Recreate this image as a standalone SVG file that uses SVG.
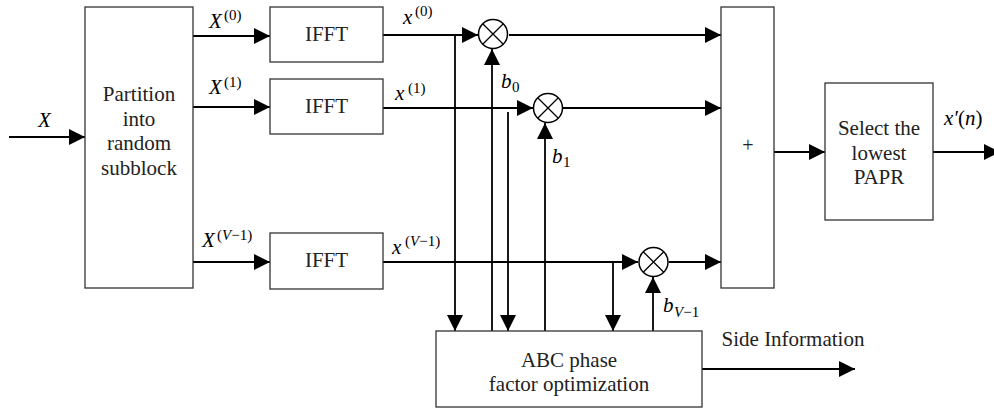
<svg xmlns="http://www.w3.org/2000/svg" width="994" height="410" viewBox="0 0 994 410" font-family="'Liberation Serif', serif">
<style>
.box{fill:#fff;stroke:#333;stroke-width:1.3}
.ln{fill:none;stroke:#000;stroke-width:1.8}
.arr{marker-end:url(#ah)}
.t{font-family:'Liberation Serif',serif;font-size:21px;fill:#222;text-anchor:middle}
.m{font-family:'Liberation Serif',serif;font-style:italic;font-size:21px;fill:#000}
.s{font-family:'Liberation Serif',serif;font-size:15px;fill:#000}
.si{font-style:italic}
.mul circle{fill:#fff;stroke:#000;stroke-width:1.5}
.mul path{stroke:#000;stroke-width:1.3;fill:none}
</style>
<defs>
<marker id="ah" markerUnits="userSpaceOnUse" markerWidth="16" markerHeight="16" viewBox="0 0 16 16" refX="16" refY="8" orient="auto">
<path d="M0,0 L16,8 L0,16 z" fill="#000"/>
</marker>
</defs>

<g id="connectors">
<line class="ln arr" x1="9" y1="137" x2="85" y2="137"/>
<line class="ln arr" x1="193" y1="36" x2="270" y2="36"/>
<line class="ln arr" x1="193" y1="107" x2="270" y2="107"/>
<line class="ln arr" x1="193" y1="262" x2="270" y2="262"/>
<line class="ln arr" x1="383" y1="35" x2="478" y2="35"/>
<line class="ln arr" x1="383" y1="108" x2="533" y2="108"/>
<line class="ln arr" x1="383" y1="262" x2="638" y2="262"/>
<line class="ln arr" x1="455" y1="35" x2="455" y2="331"/>
<line class="ln arr" x1="492" y1="331" x2="492" y2="49"/>
<line class="ln arr" x1="508" y1="112" x2="508" y2="331"/>
<line class="ln arr" x1="545" y1="331" x2="545" y2="123"/>
<line class="ln arr" x1="613" y1="262" x2="613" y2="331"/>
<line class="ln arr" x1="653" y1="331" x2="653" y2="277"/>
<line class="ln arr" x1="509" y1="35" x2="721" y2="35"/>
<line class="ln arr" x1="563" y1="108" x2="721" y2="108"/>
<line class="ln arr" x1="669" y1="262" x2="721" y2="262"/>
<line class="ln arr" x1="774" y1="152" x2="825" y2="152"/>
<line class="ln arr" x1="933" y1="152" x2="1000" y2="152"/>
<line class="ln arr" x1="702" y1="369" x2="855" y2="369"/>
</g>

<g id="partition">
<rect class="box" x="85" y="7" width="108" height="281"/>
<text class="t" x="139" y="101">Partition</text>
<text class="t" x="139" y="125.5">into</text>
<text class="t" x="139" y="150">random</text>
<text class="t" x="139" y="174.5">subblock</text>
</g>

<g id="ifft0">
<rect class="box" x="270" y="7" width="113" height="55"/>
<text class="t" x="326.5" y="41">IFFT</text>
</g>
<g id="ifft1">
<rect class="box" x="270" y="79" width="113" height="55"/>
<text class="t" x="326.5" y="113">IFFT</text>
</g>
<g id="ifft2">
<rect class="box" x="270" y="233" width="113" height="56"/>
<text class="t" x="326.5" y="267">IFFT</text>
</g>

<g id="mul0" class="mul">
<circle cx="493" cy="34" r="14.5"/>
<path d="M482.7,23.7 L503.3,44.3 M503.3,23.7 L482.7,44.3"/>
</g>
<g id="mul1" class="mul">
<circle cx="548" cy="108" r="14.5"/>
<path d="M537.7,97.7 L558.3,118.3 M558.3,97.7 L537.7,118.3"/>
</g>
<g id="mul2" class="mul">
<circle cx="653.5" cy="262" r="14.5"/>
<path d="M643.2,251.7 L663.8,272.3 M663.8,251.7 L643.2,272.3"/>
</g>

<g id="sum">
<rect class="box" x="721" y="7" width="53" height="281"/>
<text class="t" x="748" y="152" style="font-size:20px">+</text>
</g>

<g id="select">
<rect class="box" x="825" y="83" width="108" height="137"/>
<text class="t" x="879" y="135">Select the</text>
<text class="t" x="879" y="159.5">lowest</text>
<text class="t" x="879" y="184">PAPR</text>
</g>

<g id="abc">
<rect class="box" x="436" y="331" width="266" height="76"/>
<text class="t" x="569" y="367">ABC phase</text>
<text class="t" x="569" y="391">factor optimization</text>
</g>

<g id="labels">
<text class="m" x="38" y="127">X</text>
<text class="m" x="209" y="28">X</text><text class="s" x="224" y="20">(0)</text>
<text class="m" x="209" y="94">X</text><text class="s" x="224" y="87">(1)</text>
<text class="m" x="202" y="247">X</text><text class="s" x="217" y="240">(<tspan class="si">V</tspan>−1)</text>
<text class="m" x="403" y="24">x</text><text class="s" x="415" y="16">(0)</text>
<text class="m" x="395" y="100">x</text><text class="s" x="408" y="93">(1)</text>
<text class="m" x="392" y="254">x</text><text class="s" x="405" y="246">(<tspan class="si">V</tspan>−1)</text>
<text class="m" x="501" y="88">b</text><text class="s" x="512" y="92">0</text>
<text class="m" x="552" y="163">b</text><text class="s" x="563" y="167">1</text>
<text class="m" x="663" y="312">b</text><text class="s" x="674" y="317"><tspan class="si">V</tspan>−1</text>
<text class="m" x="944" y="125">x′<tspan style="font-style:normal">(</tspan>n<tspan style="font-style:normal">)</tspan></text>
<text class="t" x="793" y="346">Side Information</text>
</g>
</svg>
